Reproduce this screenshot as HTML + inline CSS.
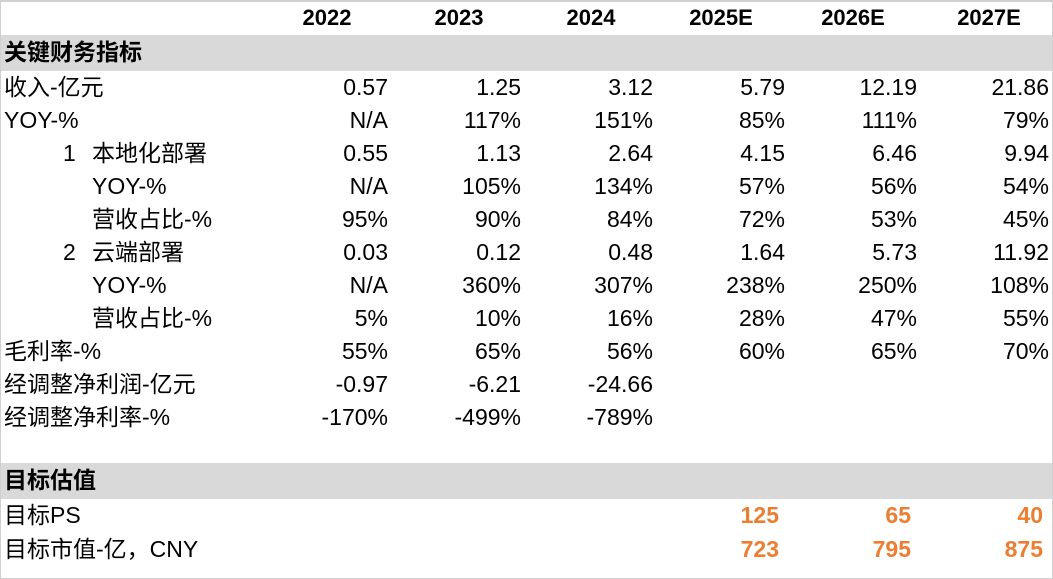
<!DOCTYPE html>
<html><head><meta charset="utf-8"><style>
body{margin:0;width:1053px;height:579px;background:#fff;position:relative;overflow:hidden;font-family:"Liberation Sans","Noto Sans CJK SC",sans-serif;font-size:23px;color:#000}
.frame{position:absolute;left:0;top:0;width:1051px;height:576px;border:1px solid #d0d0d0;border-top:2px solid #d0d0d0}
.band{position:absolute;left:1px;width:1051px;background:#d9d9d9}
.t{position:absolute;white-space:nowrap;line-height:33px;height:33px}
.r{text-align:right}
.b{font-weight:bold}
.o{color:#ed7d31;font-weight:bold}
</style></head><body>
<div class="frame"></div>
<div class="band" style="top:35px;height:36px"></div>
<div class="band" style="top:463px;height:36px"></div>
<div id="c"></div>
<script>
const c=document.getElementById('c');
function t(x,y,s,cls,right){const d=document.createElement('div');d.className='t '+(cls||'');d.textContent=s;
if(right){d.style.right=(1053-x)+'px';d.classList.add('r')}else d.style.left=x+'px';d.style.top=y+'px';c.appendChild(d)}
const ends=[388,521,653,785,917,1049];
const hdr=['2022','2023','2024','2025E','2026E','2027E'];
const hc=[327,459,591,721,853,989];
hdr.forEach((h,i)=>{const d=document.createElement('div');d.className='t b';d.textContent=h;d.style.left=(hc[i]-60)+'px';d.style.width='120px';d.style.textAlign='center';d.style.top='1px';d.style.fontSize='22px';c.appendChild(d)});
t(4,36,'关键财务指标','b');
const rows=[
[4,'收入-亿元',['0.57','1.25','3.12','5.79','12.19','21.86']],
[4,'YOY-%',['N/A','117%','151%','85%','111%','79%']],
[92,'本地化部署',['0.55','1.13','2.64','4.15','6.46','9.94']],
[92,'YOY-%',['N/A','105%','134%','57%','56%','54%']],
[92,'营收占比-%',['95%','90%','84%','72%','53%','45%']],
[92,'云端部署',['0.03','0.12','0.48','1.64','5.73','11.92']],
[92,'YOY-%',['N/A','360%','307%','238%','250%','108%']],
[92,'营收占比-%',['5%','10%','16%','28%','47%','55%']],
[4,'毛利率-%',['55%','65%','56%','60%','65%','70%']],
[4,'经调整净利润-亿元',['-0.97','-6.21','-24.66','','','']],
[4,'经调整净利率-%',['-170%','-499%','-789%','','','']]];
rows.forEach((r,i)=>{const y=71+i*33;t(r[0],y,r[1]);r[2].forEach((v,j)=>{if(v)t(ends[j],y,v,'',true)})});
t(63,71+2*33,'1');t(63,71+5*33,'2');
t(4,464,'目标估值','b');
t(4,499,'目标PS');t(4,533,'目标市值-亿，CNY');
[['125','65','40'],['723','795','875']].forEach((r,i)=>r.forEach((v,j)=>t(ends[j+3]-6,499+i*34,v,'o',true)));
</script>
</body></html>
